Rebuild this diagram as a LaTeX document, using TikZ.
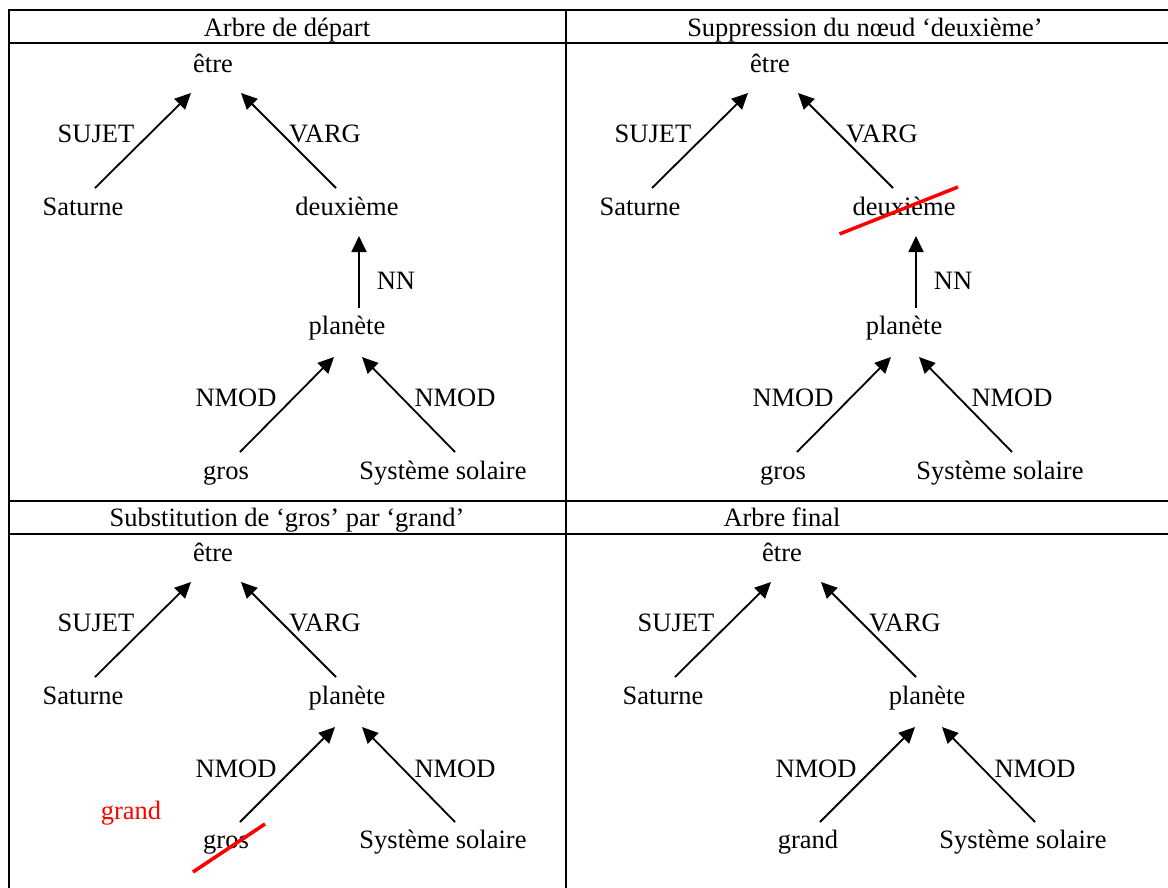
\documentclass[tikz,border=0pt]{standalone}
\usepackage{fontspec}
\setmainfont{Liberation Serif}
\usetikzlibrary{arrows.meta}
\begin{document}
\begin{tikzpicture}[x=1pt,y=-1pt,
  lbl/.style={inner sep=0pt, font=\fontsize{26.5}{30}\selectfont, text height=20pt, text depth=2pt},
  hdr/.style={lbl},
  arr/.style={draw=black, line width=1.8pt, -{Triangle[length=16pt,width=15pt]}},
  strike/.style={draw=red, line width=3.5pt},
  grid/.style={draw=black, line width=2pt}]
\useasboundingbox (0,0) rectangle (1168,887);
\begin{scope}
\clip (0,0) rectangle (1168,887);
% table
\draw[grid] (8.7,10) -- (1175,10);
\draw[grid] (8.7,42.7) -- (1175,42.7);
\draw[grid] (8.7,500.7) -- (1175,500.7);
\draw[grid] (8.7,533.7) -- (1175,533.7);
\draw[grid] (8.7,9) -- (8.7,900);
\draw[grid] (565.7,9) -- (565.7,900);
\draw[grid] (8.7,900) -- (1175,900);
\draw[grid] (1175,9) -- (1175,900);
\end{scope}
% headers
\node[hdr] (h1) at (287,27) {Arbre de départ};
\node[hdr] (h2) at (865,27) {Suppression du nœud ‘deuxième’};
\node[hdr] (h3) at (287,517) {Substitution de ‘gros’ par ‘grand’};
\node[hdr] (h4) at (782,517) {Arbre final};
% ---------- tree 1 (top left)
\begin{scope}
\node[lbl] (a-etre) at (213,63) {être};
\node[lbl] (a-suj) at (96,133) {SUJET};
\node[lbl] (a-varg) at (325,133) {VARG};
\node[lbl] (a-sat) at (83,206) {Saturne};
\node[lbl] (a-deux) at (347,206) {deuxième};
\node[lbl] (a-nn) at (396,280) {NN};
\node[lbl] (a-plan) at (347,325) {planète};
\node[lbl] (a-nm1) at (236,397) {NMOD};
\node[lbl] (a-nm2) at (455,397) {NMOD};
\node[lbl] (a-gros) at (226,470) {gros};
\node[lbl] (a-sys) at (443,470) {Système solaire};
\draw[arr] ([shift={(12,-18)}]a-sat.center) -- ([shift={(-22,30)}]a-etre.center);
\draw[arr] ([shift={(-11,-18)}]a-deux.center) -- ([shift={(28,30)}]a-etre.center);
\draw[arr] ([shift={(12,-17)}]a-plan.center) -- ([shift={(12,30)}]a-deux.center);
\draw[arr] ([shift={(14,-18)}]a-gros.center) -- ([shift={(-13,32)}]a-plan.center);
\draw[arr] ([shift={(12,-18)}]a-sys.center) -- ([shift={(15,32)}]a-plan.center);
\end{scope}
% ---------- tree 2 (top right)
\begin{scope}[shift={(557,0)}]
\node[lbl] (b-etre) at (213,63) {être};
\node[lbl] (b-suj) at (96,133) {SUJET};
\node[lbl] (b-varg) at (325,133) {VARG};
\node[lbl] (b-sat) at (83,206) {Saturne};
\node[lbl] (b-deux) at (347,206) {deuxième};
\node[lbl] (b-nn) at (396,280) {NN};
\node[lbl] (b-plan) at (347,325) {planète};
\node[lbl] (b-nm1) at (236,397) {NMOD};
\node[lbl] (b-nm2) at (455,397) {NMOD};
\node[lbl] (b-gros) at (226,470) {gros};
\node[lbl] (b-sys) at (443,470) {Système solaire};
\draw[arr] ([shift={(12,-18)}]b-sat.center) -- ([shift={(-22,30)}]b-etre.center);
\draw[arr] ([shift={(-11,-18)}]b-deux.center) -- ([shift={(28,30)}]b-etre.center);
\draw[arr] ([shift={(12,-17)}]b-plan.center) -- ([shift={(12,30)}]b-deux.center);
\draw[arr] ([shift={(14,-18)}]b-gros.center) -- ([shift={(-13,32)}]b-plan.center);
\draw[arr] ([shift={(12,-18)}]b-sys.center) -- ([shift={(15,32)}]b-plan.center);
\draw[strike] ([shift={(-64.5,28)}]b-deux.center) -- ([shift={(54,-19)}]b-deux.center);
\end{scope}
% ---------- tree 3 (bottom left)
\begin{scope}
\node[lbl] (c-etre) at (213,552) {être};
\node[lbl] (c-suj) at (96,622) {SUJET};
\node[lbl] (c-varg) at (325,622) {VARG};
\node[lbl] (c-sat) at (83,695) {Saturne};
\node[lbl] (c-plan) at (347,695) {planète};
\node[lbl] (c-nm1) at (236,768) {NMOD};
\node[lbl] (c-nm2) at (455,768) {NMOD};
\node[lbl,text=red] (c-grand) at (131,810) {grand};
\node[lbl] (c-gros) at (226,839) {gros};
\node[lbl] (c-sys) at (443,839) {Système solaire};
\draw[arr] ([shift={(12,-18)}]c-sat.center) -- ([shift={(-22,30)}]c-etre.center);
\draw[arr] ([shift={(-11,-18)}]c-plan.center) -- ([shift={(28,30)}]c-etre.center);
\draw[arr] ([shift={(14,-17)}]c-gros.center) -- ([shift={(-12,32)}]c-plan.center);
\draw[arr] ([shift={(12,-17)}]c-sys.center) -- ([shift={(15,32)}]c-plan.center);
\draw[strike] ([shift={(-33,33)}]c-gros.center) -- ([shift={(39,-15)}]c-gros.center);
\end{scope}
% ---------- tree 4 (bottom right)
\begin{scope}[shift={(580,0)}]
\node[lbl] (d-etre) at (202,552) {être};
\node[lbl] (d-suj) at (96,622) {SUJET};
\node[lbl] (d-varg) at (325,622) {VARG};
\node[lbl] (d-sat) at (83,695) {Saturne};
\node[lbl] (d-plan) at (347,695) {planète};
\node[lbl] (d-nm1) at (236,768) {NMOD};
\node[lbl] (d-nm2) at (455,768) {NMOD};
\node[lbl] (d-grand) at (228,839) {grand};
\node[lbl] (d-sys) at (443,839) {Système solaire};
\draw[arr] ([shift={(12,-18)}]d-sat.center) -- ([shift={(-11,30)}]d-etre.center);
\draw[arr] ([shift={(-11,-18)}]d-plan.center) -- ([shift={(39,30)}]d-etre.center);
\draw[arr] ([shift={(12,-17)}]d-grand.center) -- ([shift={(-12,32)}]d-plan.center);
\draw[arr] ([shift={(12,-17)}]d-sys.center) -- ([shift={(15,32)}]d-plan.center);
\end{scope}
\end{tikzpicture}
\end{document}
